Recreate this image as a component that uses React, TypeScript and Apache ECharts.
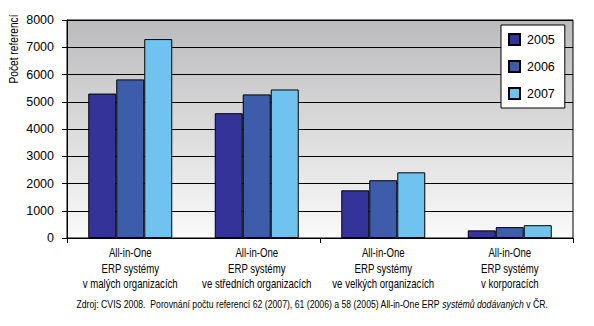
import React, { useEffect, useRef } from "react";
import * as echarts from "echarts";

const categories = [
  "All-in-One\nERP systémy\nv malých organizacích",
  "All-in-One\nERP systémy\nve středních organizacích",
  "All-in-One\nERP systémy\nve velkých organizacích",
  "All-in-One\nERP systémy\nv korporacích",
];
const years = ["2005", "2006", "2007"];
const values2005 = [5300, 4580, 1750, 280];
const values2006 = [5820, 5270, 2120, 400];
const values2007 = [7300, 5450, 2410, 470];
const colors = ["#333399", "#3d5dab", "#6fc3ee"];
const yTicks = [0, 1000, 2000, 3000, 4000, 5000, 6000, 7000, 8000];

const FONT = "'Liberation Sans', Arial, sans-serif";

export default function App() {
  const ref = useRef<HTMLDivElement>(null);
  useEffect(() => {
    if (!ref.current) return;
    const chart = echarts.init(ref.current, undefined, { renderer: "svg" });
    const seriesData = [values2005, values2006, values2007];
    chart.setOption({
      animation: false,
      textStyle: { fontFamily: FONT },
      grid: {
        left: 67,
        right: 21,
        top: 20,
        bottom: 88,
        show: true,
        borderColor: "#000",
        borderWidth: 1,
        backgroundColor: {
          type: "linear",
          x: 0,
          y: 0,
          x2: 0,
          y2: 1,
          colorStops: [
            { offset: 0, color: "#bbbbbd" },
            { offset: 1, color: "#fafafa" },
          ],
        },
      },
      legend: {
        orient: "vertical",
        left: 501,
        top: 25,
        padding: [8, 10, 8, 7],
        itemWidth: 11,
        itemHeight: 11,
        itemGap: 14,
        backgroundColor: "#fff",
        borderColor: "#000",
        borderWidth: 1,
        borderRadius: 0,
        icon: "rect",
        textStyle: { fontFamily: FONT, fontSize: 12.5, color: "#000", padding: [0, 0, 0, 2] },
        data: years,
      },
      xAxis: {
        type: "category",
        data: categories,
        axisLine: { show: true, lineStyle: { color: "#000", width: 1 } },
        axisTick: { show: true, length: 5, lineStyle: { color: "#000" } },
        axisLabel: { show: false },
      },
      yAxis: {
        type: "value",
        min: 0,
        max: 8000,
        interval: 1000,
        axisLine: { show: true, lineStyle: { color: "#000" } },
        axisTick: { show: true, length: 5, lineStyle: { color: "#000" } },
        splitLine: { show: true, lineStyle: { color: "#000", width: 1 } },
        axisLabel: {
          fontFamily: FONT,
          fontSize: 12.5,
          color: "#000",
          margin: 13,
          formatter: (v: number) => (yTicks.includes(v) ? String(v) : ""),
        },
      },
      series: years.map((y, i) => ({
        name: y,
        type: "bar",
        data: seriesData[i],
        barWidth: 28,
        barGap: "0%",
        itemStyle: { color: colors[i], borderColor: "#000", borderWidth: 1 },
      })),
    });

    const baseY = chart.convertToPixel({ yAxisIndex: 0 }, 0) as number;
    const catTexts = categories.map((c, i) => {
      const x = chart.convertToPixel({ xAxisIndex: 0 }, i) as number;
      return {
        type: "text",
        id: "cat" + i,
        x,
        y: baseY + 7,
        scaleX: 0.8,
        style: {
          text: c,
          font: `12px ${FONT}`,
          fill: "#000",
          align: "center",
          verticalAlign: "top",
          lineHeight: 15.5,
        },
      };
    });

    chart.setOption({
      graphic: [
        ...catTexts,
        {
          type: "text",
          id: "ytitle",
          x: 14,
          y: 49,
          rotation: Math.PI / 2,
          scaleX: 0.85,
          style: {
            text: "Počet referencí",
            font: `12px ${FONT}`,
            fill: "#000",
            align: "center",
            verticalAlign: "middle",
          },
        },
        {
          type: "text",
          id: "foot",
          x: 312,
          y: 304,
          scaleX: 0.79,
          style: {
            text: "{n|Zdroj: CVIS 2008.  Porovnání počtu referencí 62 (2007), 61 (2006) a 58 (2005) All-in-One ERP }{i|systémů dodávaných}{n| v ČR.}",
            align: "center",
            verticalAlign: "middle",
            rich: {
              n: { fontFamily: FONT, fontSize: 11, fill: "#000", color: "#000" },
              i: { fontFamily: FONT, fontSize: 11, fontStyle: "italic", fill: "#000", color: "#000" },
            },
          },
        },
      ],
    });
    return () => chart.dispose();
  }, []);
  return (
    <div
      ref={ref}
      style={{ position: "fixed", left: 0, top: 0, width: 594, height: 326, background: "#fff" }}
    />
  );
}
